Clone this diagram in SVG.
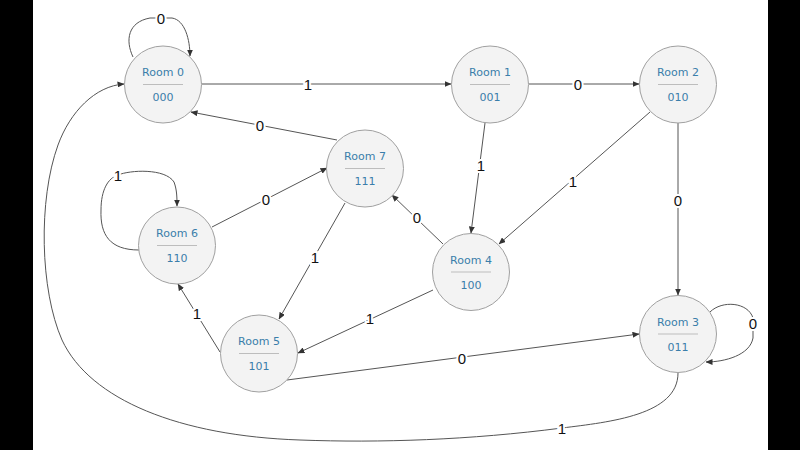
<svg xmlns="http://www.w3.org/2000/svg" width="800" height="450" viewBox="0 0 800 450">
<defs>
<marker id="arr" markerWidth="7" markerHeight="6" refX="6.5" refY="3" orient="auto" markerUnits="userSpaceOnUse">
<path d="M0,0 L7,3 L0,6 Z" fill="#333"/>
</marker>
<style>
.node circle{fill:#f3f3f3;stroke:#a0a0a0;stroke-width:1}
.node line{stroke:#bdbdbd;stroke-width:1}
.node text{font-family:"DejaVu Sans",Verdana,sans-serif;font-size:11px;fill:#3a7eaa;text-anchor:middle}
.edge{fill:none;stroke:#555;stroke-width:1;marker-end:url(#arr)}
.lbl{font-family:"Liberation Sans",Arial,sans-serif;font-size:15px;fill:#111;text-anchor:middle;dominant-baseline:central;stroke:#fff;stroke-width:4;paint-order:stroke}
</style>
</defs>
<rect x="0" y="0" width="800" height="450" fill="#fff"/>
<rect x="0" y="0" width="33" height="450" fill="#000"/>
<rect x="768" y="0" width="32" height="450" fill="#000"/>
<g id="connectors">
<path class="edge" d="M133,57 C125,40 128,22 150,18 L172,18 C185,20 190,40 190,56"/>
<path class="edge" d="M202,84 L451,84"/>
<path class="edge" d="M529,84 L639,84"/>
<path class="edge" d="M485,123 L471,233"/>
<path class="edge" d="M650,112 L499,244"/>
<path class="edge" d="M678,123 L678,295"/>
<path class="edge" d="M710,312 C722,300 748,302 753,318 L753,338 C750,355 725,362 706,362"/>
<path class="edge" d="M678,373 C678,415 610,422 562,428 C470,440 380,443 300,440 C180,436 90,400 62,340 C40,290 38,200 58,145 C70,112 95,86 124,84"/>
<path class="edge" d="M443,244 L392,195"/>
<path class="edge" d="M433,290 L298,353"/>
<path class="edge" d="M337,140 L191,112"/>
<path class="edge" d="M345,203 L279,319"/>
<path class="edge" d="M212,227 L327,168"/>
<path class="edge" d="M139,250 C110,250 100,235 101,210 C101,190 108,178 118,175 C130,170 165,168 174,182 C177,190 177,198 177,206"/>
<path class="edge" d="M220,352 L178,284"/>
<path class="edge" d="M287,380 L639,334"/>
<text class="lbl" x="161" y="18">0</text>
<text class="lbl" x="308" y="84">1</text>
<text class="lbl" x="578" y="84">0</text>
<text class="lbl" x="481" y="165">1</text>
<text class="lbl" x="573" y="181">1</text>
<text class="lbl" x="678" y="200">0</text>
<text class="lbl" x="753" y="323">0</text>
<text class="lbl" x="562" y="428">1</text>
<text class="lbl" x="417" y="217">0</text>
<text class="lbl" x="370" y="318">1</text>
<text class="lbl" x="260" y="125">0</text>
<text class="lbl" x="315" y="257">1</text>
<text class="lbl" x="266" y="199">0</text>
<text class="lbl" x="118" y="175">1</text>
<text class="lbl" x="197" y="313">1</text>
<text class="lbl" x="462" y="358">0</text>
</g>
<g id="room0" class="node"><circle cx="163" cy="84.5" r="38.5"/><line x1="143" y1="84.5" x2="183" y2="84.5"/><text x="163" y="76">Room 0</text><text x="163" y="101">000</text></g>
<g id="room1" class="node"><circle cx="490" cy="84.5" r="38.5"/><line x1="470" y1="84.5" x2="510" y2="84.5"/><text x="490" y="76">Room 1</text><text x="490" y="101">001</text></g>
<g id="room2" class="node"><circle cx="678" cy="84.5" r="38.5"/><line x1="658" y1="84.5" x2="698" y2="84.5"/><text x="678" y="76">Room 2</text><text x="678" y="101">010</text></g>
<g id="room7" class="node"><circle cx="365" cy="168.5" r="38.5"/><line x1="345" y1="168.5" x2="385" y2="168.5"/><text x="365" y="160">Room 7</text><text x="365" y="185">111</text></g>
<g id="room4" class="node"><circle cx="471" cy="272" r="38.5"/><line x1="451" y1="272" x2="491" y2="272"/><text x="471" y="263.5">Room 4</text><text x="471" y="288.5">100</text></g>
<g id="room6" class="node"><circle cx="177" cy="245.5" r="38.5"/><line x1="157" y1="245.5" x2="197" y2="245.5"/><text x="177" y="237">Room 6</text><text x="177" y="262">110</text></g>
<g id="room5" class="node"><circle cx="259" cy="353.5" r="38.5"/><line x1="239" y1="353.5" x2="279" y2="353.5"/><text x="259" y="345">Room 5</text><text x="259" y="370">101</text></g>
<g id="room3" class="node"><circle cx="678" cy="334" r="38.5"/><line x1="658" y1="334" x2="698" y2="334"/><text x="678" y="325.5">Room 3</text><text x="678" y="350.5">011</text></g>
</svg>
